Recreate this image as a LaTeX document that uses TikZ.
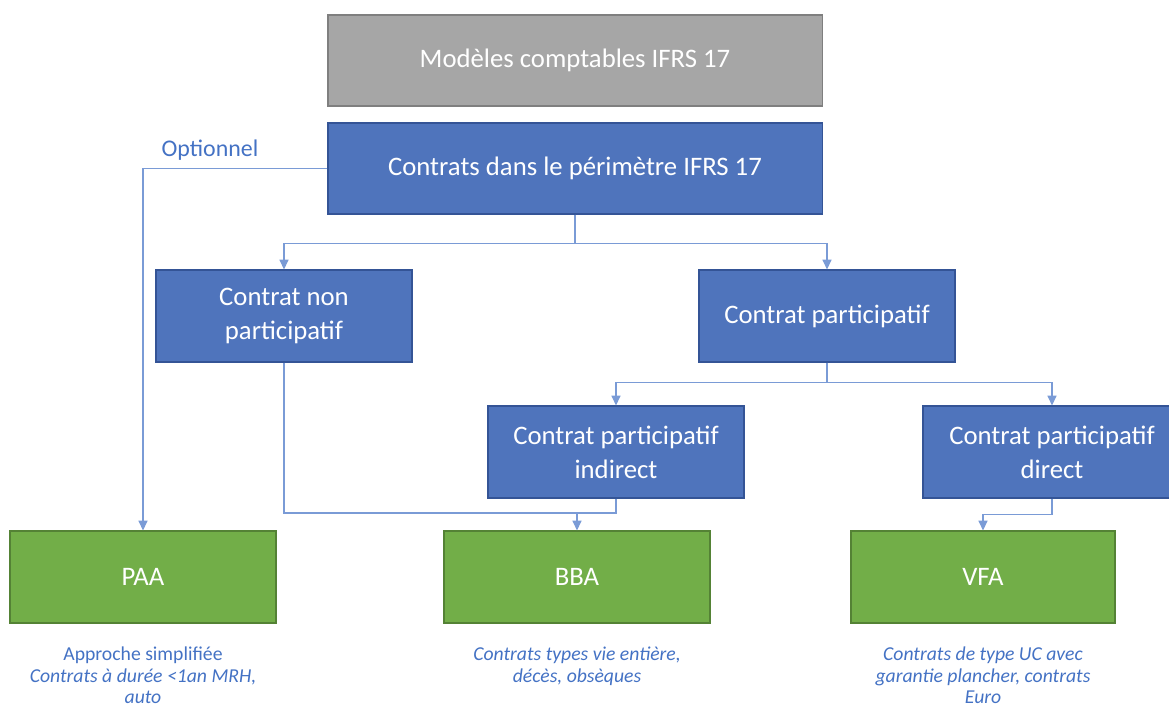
\documentclass[tikz,border=0pt]{standalone}
\usepackage{fontspec}
\setmainfont{Carlito}
\usetikzlibrary{positioning,arrows.meta}

\definecolor{boxblue}{RGB}{79,116,188}
\definecolor{boxblueline}{RGB}{52,84,150}
\definecolor{boxgreen}{RGB}{114,174,72}
\definecolor{boxgreenline}{RGB}{84,130,53}
\definecolor{boxgray}{RGB}{166,166,166}
\definecolor{boxgrayline}{RGB}{127,127,127}
\definecolor{linkblue}{RGB}{122,155,214}
\definecolor{noteblue}{RGB}{68,114,196}

\begin{document}
\begin{tikzpicture}[x = 0.025cm, y = -0.025cm, >={Triangle[width=6.5pt, length=7pt]},
    box/.style = {draw = boxblueline, fill = boxblue, line width = 0.8pt, text = white,
        align = center, minimum height = 2.3cm, font = \fontsize{19}{24}\selectfont},
    modelbox/.style = {box, draw = boxgreenline, fill = boxgreen, minimum width = 6.65cm},
    note/.style = {text = noteblue, align = center, inner sep = 0pt, anchor = north,
        font = \fontsize{14}{15.2}\selectfont\itshape},
    link/.style = {draw = linkblue, line width = 0.8pt}]

    \useasboundingbox (0, 0) rectangle (1169, 706);

    \node [box, draw = boxgrayline, fill = boxgray, minimum width = 12.35cm, minimum height = 2.275cm] (ifrs) at (575, 60.5) {Modèles comptables IFRS 17};
    \node [box, minimum width = 12.35cm, minimum height = 2.275cm] (perim) at (575, 168.5) {Contrats dans le périmètre IFRS 17};

    \node [box, minimum width = 6.4cm] (nonpart) at (284, 316) {Contrat non\\participatif};
    \node [box, minimum width = 6.4cm] (part) at (827, 316) {Contrat participatif};
    \node [box, minimum width = 6.4cm] (indirect) at (616, 452) {Contrat participatif\\indirect};
    \node [box, minimum width = 6.45cm] (direct) at (1052, 452) {Contrat participatif\\direct};

    \node [modelbox] (paa) at (143, 577) {PAA};
    \node [modelbox] (bba) at (577, 577) {BBA};
    \node [modelbox, minimum width = 6.6cm] (vfa) at (983, 577) {VFA};

    \node [note] (paanote) at (143, 647) {\upshape Approche simplifiée\\Contrats à durée <1an MRH,\\auto};
    \node [note] (bbanote) at (577, 647) {Contrats types vie entière,\\décès, obsèques};
    \node [note] (vfanote) at (983, 647) {Contrats de type UC avec\\garantie plancher, contrats\\Euro};

    \node [text = noteblue, font = \fontsize{17}{20}\selectfont] (opt) at (210, 150) {Optionnel};

    % liens
    \draw [link, ->] (perim.west) -| (paa.north);
    \draw [link, ->] (perim.south) -- ++(0, 29) -| (nonpart.north);
    \draw [link, ->] (perim.south) -- ++(0, 29) -| (part.north);
    \draw [link, ->] (part.south) -- ++(0, 20) -| (indirect.north);
    \draw [link, ->] (part.south) -- ++(0, 20) -| (direct.north);

    \coordinate (bbajoin) at (577, 513);
    \draw [link] (nonpart.south) |- (bbajoin);
    \draw [link] (indirect.south) |- (bbajoin);
    \draw [link, ->] (bbajoin) -- (bba.north);
    \draw [link, ->] (direct.south) -- ++(0, 16) -| (vfa.north);

\end{tikzpicture}
\end{document}
